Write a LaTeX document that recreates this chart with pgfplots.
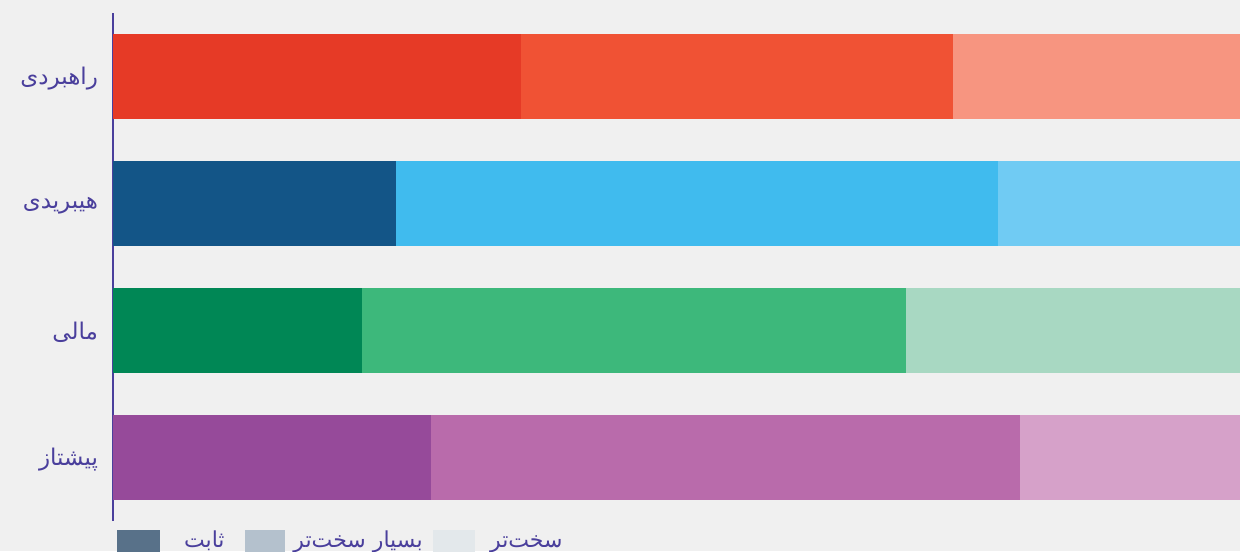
\documentclass[border=0pt]{standalone}
\usepackage{pgfplots}
\pgfplotsset{compat=1.18}
\usepackage{fontspec}
\setmainfont{DejaVu Sans}
\newfontfamily\arabicfont[Script=Arabic]{DejaVu Sans}
\TeXXeTstate=1
\definecolor{bg}{HTML}{F0F0F0}
\definecolor{lab}{HTML}{4A3F9C}
\definecolor{rA}{HTML}{E63A26}\definecolor{rB}{HTML}{F05234}\definecolor{rC}{HTML}{F79580}
\definecolor{bA}{HTML}{135587}\definecolor{bB}{HTML}{40BBEE}\definecolor{bC}{HTML}{70CBF3}
\definecolor{gA}{HTML}{008755}\definecolor{gB}{HTML}{3DB87B}\definecolor{gC}{HTML}{A8D8C2}
\definecolor{pA}{HTML}{964A9A}\definecolor{pB}{HTML}{B96BAB}\definecolor{pC}{HTML}{D6A1C9}
\definecolor{lA}{HTML}{587189}\definecolor{lB}{HTML}{B4C1CD}\definecolor{lC}{HTML}{E3E8EB}
\begin{document}
\begin{tikzpicture}[x=0.5pt,y=0.5pt]
\fill[bg] (0,0) rectangle (1240,551);
\useasboundingbox (0,0) rectangle (1240,551);
\begin{axis}[
  at={(56.5pt,15pt)}, anchor=south west,
  scale only axis, width=563.5pt, height=254pt,
  xmin=0, xmax=100, ymin=-0.5, ymax=3.5,
  axis x line=none, axis y line*=left,
  y axis line style={color=lab, line width=1pt},
  ytick={0,1,2,3},
  yticklabels={{\arabicfont\beginR پیشتاز\endR},{\arabicfont\beginR مالی\endR},{\arabicfont\beginR هیبریدی\endR},{\arabicfont\beginR راهبردی\endR}},
  yticklabel style={font=\fontsize{11.5}{14}\selectfont, text=lab, xshift=-4pt, yshift=-1pt},
  major tick length=0pt,
  xbar, bar shift=0pt, bar width=0.67,
  every axis plot/.append style={draw=none},
  clip=false,
]
% row 3 (top)
\addplot[fill=rC] coordinates {(100,3)};
\addplot[fill=rB] coordinates {(74.5,3)};
\addplot[fill=rA] coordinates {(36.2,3)};
% row 2
\addplot[fill=bC] coordinates {(100,2)};
\addplot[fill=bB] coordinates {(78.5,2)};
\addplot[fill=bA] coordinates {(25.1,2)};
% row 1
\addplot[fill=gC] coordinates {(100,1)};
\addplot[fill=gB] coordinates {(70.4,1)};
\addplot[fill=gA] coordinates {(22.1,1)};
% row 0
\addplot[fill=pC] coordinates {(100,0)};
\addplot[fill=pB] coordinates {(80.5,0)};
\addplot[fill=pA] coordinates {(28.2,0)};
\end{axis}
% legend
\fill[lA] (117,-10) rectangle (160,21);
\fill[lB] (245,-10) rectangle (285,21);
\fill[lC] (433,-10) rectangle (475,21);
\node[anchor=base east, inner sep=0pt, text=lab, font=\fontsize{11}{13}\selectfont] at (225,4) {\arabicfont\beginR ثابت\endR};
\node[anchor=base east, inner sep=0pt, text=lab, font=\fontsize{11}{13}\selectfont] at (423,4) {\arabicfont\beginR بسیار سخت‌تر\endR};
\node[anchor=base east, inner sep=0pt, text=lab, font=\fontsize{11}{13}\selectfont] at (563,4) {\arabicfont\beginR سخت‌تر\endR};
\end{tikzpicture}
\end{document}
